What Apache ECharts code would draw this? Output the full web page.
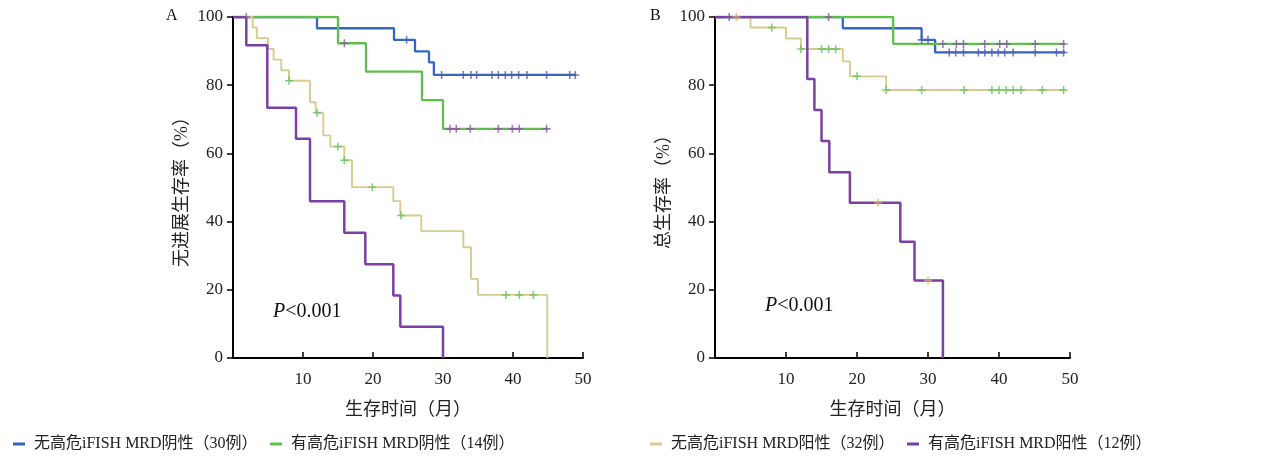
<!DOCTYPE html>
<html><head><meta charset="utf-8">
<script src="https://cdn.jsdelivr.net/npm/echarts@6/dist/echarts.min.js"></script>
<style>html,body{margin:0;padding:0;background:#fff}#c{width:1274px;height:463px}</style>
</head><body><div id="c"></div>
<script>
// ---------- data ----------
const groupNames = ['无高危iFISH MRD阴性（30例）','有高危iFISH MRD阴性（14例）','无高危iFISH MRD阳性（32例）','有高危iFISH MRD阳性（12例）'];
const xTickValues = [10,20,30,40,50];
const yTickValues = [0,20,40,60,80,100];

// Panel A: progression-free survival  [month, %]
const pfsBlue   = [[0,100],[12,96.7],[23,93.3],[26,89.9],[28,86.7],[28.7,83.0],[49,83.0]];
const pfsGreen  = [[0,100],[15,92.3],[19,84.0],[27,75.6],[30,67.2],[45,67.2]];
const pfsYellow = [[0,100],[2.8,96.9],[3.4,93.8],[5,90.6],[5.8,87.5],[6.9,84.4],[8,81.3],[11,75.0],[11.8,71.9],[12.9,65.3],[13.9,62.0],[15.9,58.0],[17,50.1],[22.9,46.0],[23.9,41.8],[26.9,37.2],[32.9,32.5],[34,23.2],[35,18.5],[44.9,18.5],[44.9,0]];
const pfsPurple = [[0,100],[1.9,91.7],[4.9,73.4],[9,64.3],[11,46.0],[15.9,36.7],[18.9,27.5],[22.9,18.3],[23.9,9.2],[30,9.2],[30,0]];
const pfsBlueCensor   = [24.8,29.8,32.9,34,34.8,37,37.9,38.9,39.8,40.8,42,44.8,48.1,48.9];
const pfsGreenCensor  = [1.9,15.9,31,31.9,33.9,37.9,39.9,40.9,44.8];
const pfsYellowCensor = [8,12,15,15.9,19.9,24,39,40.9,42.9];
const pfsPurpleCensor = [];

// Panel B: overall survival  [month, %]
const osBlue   = [[0,100],[18,96.7],[29.1,93.3],[31,89.6],[49.3,89.6]];
const osGreen  = [[0,100],[25.1,92.1],[49.3,92.1]];
const osYellow = [[0,100],[5,96.9],[10,93.7],[12.1,90.6],[18,87.0],[19,82.6],[24.1,78.6],[49.3,78.6]];
const osPurple = [[0,100],[13,81.8],[14,72.7],[15,63.6],[16.1,54.5],[19,45.5],[26.1,34.1],[28.1,22.7],[32.1,22.7],[32.1,0]];
const osBlueCensor   = [29.1,30,33,33.9,35,37.1,38,39,39.9,40.8,42,45.1,48.1,49.1];
const osGreenCensor  = [2,16,32.1,34,35,38,40.1,41.1,45.1,49.1];
const osYellowCensor = [8,12.1,15,16,17,20,24.1,29.1,35.1,39,40,41,42,43.1,46.1,49.1];
const osPurpleCensor = [3,23,30];

// ---------- styles ----------
const lineColors   = ['#3367c2','#5fbf4b','#d7cb8e','#7c3fa6'];
const censorColors = ['#4a5fb0','#8a55a8','#62c25c','#e0a878'];
const lineWidths   = [2.3,2.3,1.9,2.5];
const FONT = "'Liberation Serif','Times New Roman','Noto Sans CJK SC',serif";
const PLUS = 'path://M3.1,0H4.6V3.1H7.7V4.6H4.6V7.7H3.1V4.6H0V3.1H3.1Z';

function valueAt(curve, t){ let v = curve[0][1]; for (const p of curve){ if (p[0] <= t) v = p[1]; } return v; }

const series = [];
function addPanel(curves, censors, gi){
  curves.forEach((c,i)=>{
    series.push({type:'line', name:groupNames[i], xAxisIndex:gi, yAxisIndex:gi, data:c, step:'end',
      showSymbol:false, symbol:'none', lineStyle:{color:lineColors[i], width:lineWidths[i]}, itemStyle:{color:lineColors[i]},
      z:2+i, silent:true, animation:false});
  });
  censors.forEach((ts,i)=>{
    series.push({type:'scatter', xAxisIndex:gi, yAxisIndex:gi, data:ts.map(t=>[t,valueAt(curves[i],t)]),
      symbol:PLUS, symbolSize:8, itemStyle:{color:censorColors[i]}, z:10, silent:true, animation:false});
  });
}
addPanel([pfsBlue,pfsGreen,pfsYellow,pfsPurple],[pfsBlueCensor,pfsGreenCensor,pfsYellowCensor,pfsPurpleCensor],0);
addPanel([osBlue,osGreen,osYellow,osPurple],[osBlueCensor,osGreenCensor,osYellowCensor,osPurpleCensor],1);

function xAx(gi){ return {type:'value', gridIndex:gi, min:0, max:50, interval:10,
  name:'生存时间（月）', nameLocation:'middle', nameGap:43, nameTextStyle:{fontSize:18, color:'#222', fontFamily:FONT},
  axisLine:{show:true, onZero:false, lineStyle:{color:'#000', width:2}},
  axisTick:{show:true, inside:true, length:6, lineStyle:{color:'#000', width:1.5}},
  axisLabel:{showMinLabel:false, margin:13, fontSize:17, color:'#222', fontFamily:FONT},
  splitLine:{show:false}}; }
function yAx(gi,name){ return {type:'value', gridIndex:gi, min:0, max:100, interval:20,
  name:name, nameLocation:'middle', nameGap:42, nameTextStyle:{fontSize:18, color:'#222', fontFamily:FONT},
  axisLine:{show:true, lineStyle:{color:'#000', width:2}},
  axisTick:{show:true, length:6, lineStyle:{color:'#000', width:1.5}},
  axisLabel:{margin:10, fontSize:17, color:'#222', fontFamily:FONT},
  splitLine:{show:false}}; }

const legendLefts = [8,265,645,902];
const legends = groupNames.map((n,i)=>({data:[n], left:legendLefts[i], top:431, icon:'rect', itemWidth:12, itemHeight:3,
  formatter:' {name}', textStyle:{fontSize:16, color:'#222', fontFamily:FONT}, selectedMode:false}));

const option = {
  animation:false,
  backgroundColor:'#fff',
  grid:[{left:233, top:17, width:350, height:341},{left:715, top:17, width:355, height:341}],
  xAxis:[xAx(0), xAx(1)],
  yAxis:[yAx(0,'无进展生存率（%）'), yAx(1,'总生存率（%）')],
  legend:legends,
  series:series,
  graphic:[
    {type:'text', left:166, top:8, style:{text:'A', fontSize:16, fill:'#111', fontFamily:FONT}},
    {type:'text', left:650, top:8, style:{text:'B', fontSize:16, fill:'#111', fontFamily:FONT}},
    {type:'text', left:273, top:302, style:{text:'{i|P}<0.001', fontSize:20, fill:'#111', fontFamily:FONT, rich:{i:{fontStyle:'italic', fontSize:20, fontFamily:FONT, fill:'#111'}}}},
    {type:'text', left:765, top:296, style:{text:'{i|P}<0.001', fontSize:20, fill:'#111', fontFamily:FONT, rich:{i:{fontStyle:'italic', fontSize:20, fontFamily:FONT, fill:'#111'}}}}
  ]
};
const chart = echarts.init(document.getElementById('c'), null, {renderer:'canvas'});
chart.setOption(option);
</script></body></html>
